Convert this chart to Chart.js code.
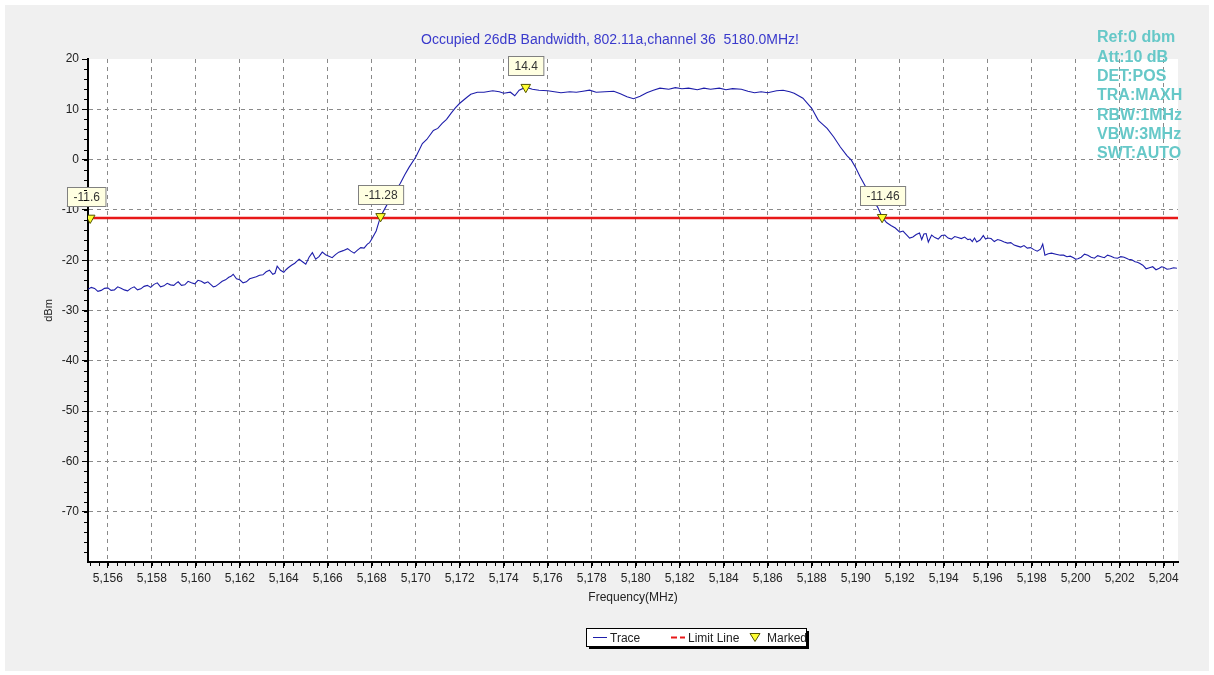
<!DOCTYPE html>
<html>
<head>
<meta charset="utf-8">
<script src="https://cdn.jsdelivr.net/npm/chart.js@4.4.0/dist/chart.umd.min.js"></script>
<style>
  body { margin: 0; background: #fff; }
  #myChart { display: block; }
</style>
</head>
<body>
<canvas id="myChart" width="1214" height="675" style="width:1214px;height:675px"></canvas>
<script>
// trace: [MHz, dBm]
var trace = [
  [5155.1, -25.8], [5155.25, -25.4], [5155.4, -25.6], [5155.55, -26.2], [5155.7, -26.0], [5155.85, -25.6],
  [5156.0, -25.5], [5156.15, -26.0], [5156.3, -25.9], [5156.45, -25.3], [5156.6, -25.6], [5156.75, -25.9],
  [5156.9, -26.1], [5157.05, -25.6], [5157.2, -25.3], [5157.35, -25.9], [5157.5, -25.7], [5157.65, -25.2],
  [5157.8, -25.0], [5157.95, -25.4], [5158.1, -24.8], [5158.25, -24.5], [5158.4, -25.3], [5158.55, -25.1],
  [5158.7, -24.6], [5158.85, -24.9], [5159.0, -25.0], [5159.1, -24.6], [5159.2, -24.3], [5159.35, -25.0],
  [5159.5, -24.9], [5159.65, -24.2], [5159.8, -24.5], [5159.95, -24.7], [5160.1, -24.0], [5160.25, -24.2],
  [5160.4, -24.6], [5160.55, -24.3], [5160.7, -24.9], [5160.8, -25.3], [5160.9, -25.2], [5161.05, -24.7],
  [5161.2, -24.2], [5161.35, -23.9], [5161.5, -23.4], [5161.6, -23.2], [5161.7, -22.8], [5161.85, -23.7],
  [5162.0, -23.9], [5162.15, -24.5], [5162.3, -24.3], [5162.45, -23.7], [5162.6, -23.5], [5162.75, -23.3],
  [5162.9, -23.0], [5163.05, -22.9], [5163.2, -22.3], [5163.35, -22.0], [5163.5, -22.8], [5163.6, -22.6],
  [5163.7, -21.2], [5163.85, -22.0], [5164.0, -22.4], [5164.1, -21.9], [5164.2, -21.5], [5164.35, -21.0],
  [5164.5, -20.6], [5164.6, -20.2], [5164.7, -19.8], [5164.85, -20.3], [5165.0, -20.8], [5165.15, -19.4],
  [5165.3, -18.5], [5165.45, -19.8], [5165.6, -19.3], [5165.75, -18.4], [5165.9, -18.9], [5166.05, -19.2],
  [5166.2, -19.5], [5166.35, -18.9], [5166.5, -18.4], [5166.7, -18.1], [5166.9, -17.7], [5167.05, -18.2],
  [5167.2, -18.6], [5167.35, -18.0], [5167.5, -17.5], [5167.65, -17.6], [5167.8, -16.8], [5167.9, -16.5],
  [5168.0, -15.8], [5168.2, -14.2], [5168.4, -11.3], [5168.7, -8.9], [5168.9, -7.4], [5169.3, -4.7],
  [5169.5, -3.0], [5169.7, -1.5], [5170.0, 0.5], [5170.3, 3.2], [5170.5, 4.0], [5170.8, 5.8],
  [5171.0, 6.2], [5171.2, 7.2], [5171.4, 8.0], [5171.6, 9.2], [5171.8, 10.3], [5172.0, 11.2],
  [5172.3, 12.3], [5172.5, 13.0], [5172.8, 13.4], [5173.1, 13.4], [5173.5, 13.7], [5173.8, 13.5],
  [5174.0, 13.2], [5174.3, 13.4], [5174.5, 12.7], [5174.7, 13.8], [5175.0, 14.4], [5175.3, 14.0],
  [5175.6, 13.8], [5176.0, 13.7], [5176.3, 13.5], [5176.6, 13.3], [5177.0, 13.5], [5177.3, 13.4],
  [5177.6, 13.6], [5177.9, 13.8], [5178.2, 13.4], [5178.6, 13.5], [5179.0, 13.6], [5179.3, 13.1],
  [5179.6, 12.5], [5179.9, 12.1], [5180.2, 12.6], [5180.5, 13.3], [5180.8, 13.8], [5181.1, 14.2],
  [5181.5, 14.0], [5181.8, 14.3], [5182.1, 14.1], [5182.4, 14.2], [5182.8, 13.9], [5183.1, 14.2],
  [5183.4, 14.0], [5183.8, 14.2], [5184.1, 13.9], [5184.4, 14.1], [5184.8, 14.0], [5185.1, 13.6],
  [5185.4, 13.3], [5185.7, 13.5], [5186.0, 13.3], [5186.4, 13.7], [5186.7, 13.8], [5187.0, 13.5],
  [5187.2, 13.2], [5187.6, 12.2], [5188.0, 10.2], [5188.3, 7.8], [5188.5, 7.0], [5188.7, 6.2],
  [5189.0, 4.5], [5189.3, 2.5], [5189.6, 0.8], [5189.8, -0.1], [5190.0, -1.6], [5190.2, -3.4],
  [5190.5, -5.8], [5190.7, -7.4], [5191.0, -9.5], [5191.2, -11.4], [5191.4, -12.5], [5191.6, -13.1],
  [5191.8, -13.6], [5192.0, -14.4], [5192.15, -14.2], [5192.3, -14.9], [5192.45, -15.6], [5192.6, -15.4],
  [5192.75, -14.9], [5192.9, -14.6], [5193.0, -15.9], [5193.1, -14.8], [5193.2, -14.7], [5193.3, -16.4],
  [5193.45, -15.0], [5193.6, -15.5], [5193.75, -15.8], [5193.9, -15.1], [5194.05, -15.0], [5194.2, -15.6],
  [5194.35, -15.8], [5194.5, -15.3], [5194.65, -15.5], [5194.8, -15.7], [5194.95, -15.4], [5195.1, -15.9],
  [5195.2, -15.8], [5195.3, -16.3], [5195.4, -15.6], [5195.5, -16.4], [5195.65, -16.0], [5195.8, -15.1],
  [5195.9, -15.8], [5196.0, -15.6], [5196.15, -15.7], [5196.3, -16.3], [5196.45, -15.9], [5196.6, -16.1],
  [5196.75, -16.4], [5196.9, -16.6], [5197.05, -16.5], [5197.2, -17.0], [5197.35, -17.2], [5197.5, -17.4],
  [5197.65, -17.1], [5197.8, -17.6], [5197.95, -17.5], [5198.1, -17.9], [5198.25, -18.2], [5198.4, -17.8],
  [5198.5, -16.8], [5198.6, -19.0], [5198.75, -18.7], [5198.9, -18.6], [5199.1, -18.8], [5199.3, -19.0],
  [5199.45, -19.0], [5199.6, -19.3], [5199.75, -19.2], [5199.9, -19.5], [5200.0, -19.8], [5200.1, -19.7],
  [5200.25, -19.4], [5200.4, -18.8], [5200.55, -19.0], [5200.7, -19.4], [5200.85, -19.6], [5201.0, -19.1],
  [5201.15, -19.3], [5201.3, -19.5], [5201.45, -19.0], [5201.6, -19.2], [5201.75, -19.5], [5201.9, -19.6],
  [5202.05, -19.3], [5202.2, -19.4], [5202.3, -19.6], [5202.4, -19.8], [5202.55, -19.9], [5202.7, -20.3],
  [5202.8, -20.4], [5202.9, -20.6], [5203.05, -21.0], [5203.2, -21.7], [5203.35, -21.5], [5203.5, -21.3],
  [5203.65, -21.9], [5203.8, -21.6], [5203.9, -21.3], [5204.0, -21.4], [5204.15, -21.8], [5204.3, -21.7],
  [5204.45, -21.5], [5204.6, -21.6]
];

var limitDbm = -11.6;
var markerFreq = [5155.2, 5168.4, 5175.0, 5191.2];
var markerDbm = [-11.6, -11.28, 14.4, -11.46];
var markerText = ['-11.6', '-11.28', '14.4', '-11.46'];

var xMin = 5155.1, xMax = 5204.65;
var yMin = -80, yMax = 20;
var xTicks = [5156, 5158, 5160, 5162, 5164, 5166, 5168, 5170, 5172, 5174, 5176, 5178, 5180,
              5182, 5184, 5186, 5188, 5190, 5192, 5194, 5196, 5198, 5200, 5202, 5204];
var yTicks = [20, 10, 0, -10, -20, -30, -40, -50, -60, -70];

var titleText = 'Occupied 26dB Bandwidth, 802.11a,channel 36  5180.0MHz!';
var infoLines = ['Ref:0 dbm', 'Att:10 dB', 'DET:POS', 'TRA:MAXH', 'RBW:1MHz', 'VBW:3MHz', 'SWT:AUTO'];
var legendNames = ['Trace', 'Limit Line', 'Marked'];

var traceColor = '#1e1eaa';
var limitColor = '#e81818';
var markFill = '#ffff33';

Chart.defaults.font.family = '"Liberation Sans", Arial, sans-serif';
Chart.defaults.font.size = 12;
Chart.defaults.color = '#222';

var bgPlugin = {
  id: 'bg',
  beforeDraw: function (chart) {
    var c = chart.ctx, a = chart.chartArea;
    c.save();
    c.fillStyle = '#ffffff';
    c.fillRect(0, 0, chart.width, chart.height);
    c.fillStyle = '#f0f0f0';
    c.fillRect(5, 5, chart.width - 10, chart.height - 9);
    c.fillStyle = '#ffffff';
    c.fillRect(a.left, a.top, a.right - a.left, a.bottom - a.top);
    c.restore();
  }
};

function drawTri(c, x, y) {
  c.beginPath();
  c.moveTo(x - 5, y - 4);
  c.lineTo(x + 5, y - 4);
  c.lineTo(x, y + 4);
  c.closePath();
  c.fillStyle = markFill;
  c.fill();
  c.strokeStyle = '#555500';
  c.lineWidth = 1;
  c.stroke();
}

var overlayPlugin = {
  id: 'overlay',
  afterDatasetsDraw: function (chart) {
    var c = chart.ctx;
    var xs = chart.scales.x, ys = chart.scales.y;
    c.save();
    c.font = '12px "Liberation Sans", Arial, sans-serif';
    c.textAlign = 'center';
    c.textBaseline = 'middle';
    for (var i = 0; i < markerText.length; i++) {
      var px = xs.getPixelForValue(markerFreq[i]);
      var py = ys.getPixelForValue(markerDbm[i]);
      var w = c.measureText(markerText[i]).width + 12;
      var h = 19;
      var bx = Math.round(px - w / 2) + 0.5, by = Math.round(py - 12 - h) + 0.5;
      if (i === 0) bx -= 4;
      c.fillStyle = '#ffffe1';
      c.fillRect(bx, by, w, h);
      c.strokeStyle = '#808080';
      c.lineWidth = 1;
      c.strokeRect(bx, by, w, h);
      c.fillStyle = '#333';
      c.fillText(markerText[i], bx + w / 2, by + h / 2 + 1);
    }
    c.restore();
  },
  afterDraw: function (chart) {
    var c = chart.ctx, a = chart.chartArea;
    var xs = chart.scales.x, ys = chart.scales.y;
    c.save();
    // minor ticks
    c.strokeStyle = '#000';
    c.lineWidth = 1;
    c.beginPath();
    for (var f = 5155.2; f <= xMax; f += 0.4) {
      var xp = Math.round(xs.getPixelForValue(f)) + 0.5;
      c.moveTo(xp, a.bottom + 1);
      c.lineTo(xp, a.bottom + 4);
    }
    for (var v = yMin + 2; v < yMax; v += 2) {
      var yp = Math.round(ys.getPixelForValue(v)) + 0.5;
      c.moveTo(a.left - 4, yp);
      c.lineTo(a.left - 1, yp);
    }
    c.stroke();

    // title
    c.font = '14px "Liberation Sans", Arial, sans-serif';
    c.fillStyle = '#3a3acc';
    c.textAlign = 'center';
    c.textBaseline = 'middle';
    c.fillText(titleText, 610, 40);

    // instrument settings
    c.font = 'bold 16px "Liberation Sans", Arial, sans-serif';
    c.fillStyle = '#66c8c8';
    c.textAlign = 'left';
    for (var i = 0; i < infoLines.length; i++) {
      c.fillText(infoLines[i], 1097, 38 + i * 19.3);
    }

    // legend box
    var lx = 586, ly = 628, lw = 220, lh = 18;
    c.fillStyle = '#000';
    c.fillRect(lx + 3, ly + 3, lw, lh);
    c.fillStyle = '#fff';
    c.fillRect(lx, ly, lw, lh);
    c.strokeStyle = '#000';
    c.lineWidth = 1;
    c.strokeRect(lx + 0.5, ly + 0.5, lw, lh);
    var cy = ly + 9.5;
    c.strokeStyle = traceColor;
    c.beginPath(); c.moveTo(593, cy); c.lineTo(607, cy); c.stroke();
    c.strokeStyle = limitColor;
    c.lineWidth = 2;
    c.setLineDash([6, 3]);
    c.beginPath(); c.moveTo(671, cy); c.lineTo(685, cy); c.stroke();
    c.setLineDash([]);
    drawTri(c, 755, cy);
    c.font = '12px "Liberation Sans", Arial, sans-serif';
    c.fillStyle = '#222';
    c.textBaseline = 'middle';
    c.fillText(legendNames[0], 610, cy + 1);
    c.fillText(legendNames[1], 688, cy + 1);
    c.fillText(legendNames[2], 767, cy + 1);
    c.restore();
  }
};

var tracePts = trace.map(function (p) { return { x: p[0], y: p[1] }; });
var markPts = markerFreq.map(function (f, i) { return { x: f, y: markerDbm[i] }; });

var ctx = document.getElementById('myChart').getContext('2d');
var myChart = new Chart(ctx, {
  type: 'scatter',
  data: {
    datasets: [{
      label: 'Marked',
      data: markPts,
      showLine: false,
      pointStyle: 'triangle',
      rotation: 180,
      pointRadius: 5.5,
      backgroundColor: markFill,
      borderColor: '#555500',
      borderWidth: 1
    }, {
      label: 'Limit Line',
      data: [{ x: xMin, y: limitDbm }, { x: xMax, y: limitDbm }],
      showLine: true,
      borderColor: limitColor,
      borderWidth: 2.5,
      pointRadius: 0
    }, {
      label: 'Trace',
      data: tracePts,
      showLine: true,
      borderColor: traceColor,
      borderWidth: 1.1,
      pointRadius: 0,
      tension: 0
    }]
  },
  options: {
    responsive: false,
    animation: false,
    events: [],
    layout: { padding: { left: 38, right: 36, top: 59, bottom: 70 } },
    plugins: {
      legend: { display: false },
      tooltip: { enabled: false }
    },
    scales: {
      x: {
        type: 'linear',
        min: xMin,
        max: xMax,
        afterBuildTicks: function (s) { s.ticks = xTicks.map(function (v) { return { value: v }; }); },
        afterFit: function (s) { s.height = 43; },
        ticks: {
          autoSkip: false,
          maxRotation: 0,
          padding: 3,
          callback: function (v) { return v.toLocaleString('en-US'); }
        },
        grid: { color: '#8a8a8a', lineWidth: 1, tickColor: '#000', tickLength: 6, borderDash: [4, 4] },
        border: { color: '#000', width: 2, dash: [4, 4] },
        title: { display: true, text: 'Frequency(MHz)', font: { size: 12 }, padding: { top: 2, bottom: 0 } }
      },
      y: {
        min: yMin,
        max: yMax,
        afterBuildTicks: function (s) { s.ticks = yTicks.map(function (v) { return { value: v }; }); },
        afterFit: function (s) { s.width = 50; },
        ticks: { padding: 3 },
        grid: {
          color: function (ctx) { return ctx.tick && ctx.tick.value === yMax ? 'rgba(0,0,0,0)' : '#8a8a8a'; },
          lineWidth: 1, tickColor: '#000', tickLength: 6, borderDash: [4, 4]
        },
        border: { color: '#000', width: 2, dash: [4, 4] },
        title: { display: true, text: 'dBm', font: { size: 11 }, padding: { top: 4, bottom: 4 } }
      }
    }
  },
  plugins: [bgPlugin, overlayPlugin]
});
</script>
</body>
</html>
